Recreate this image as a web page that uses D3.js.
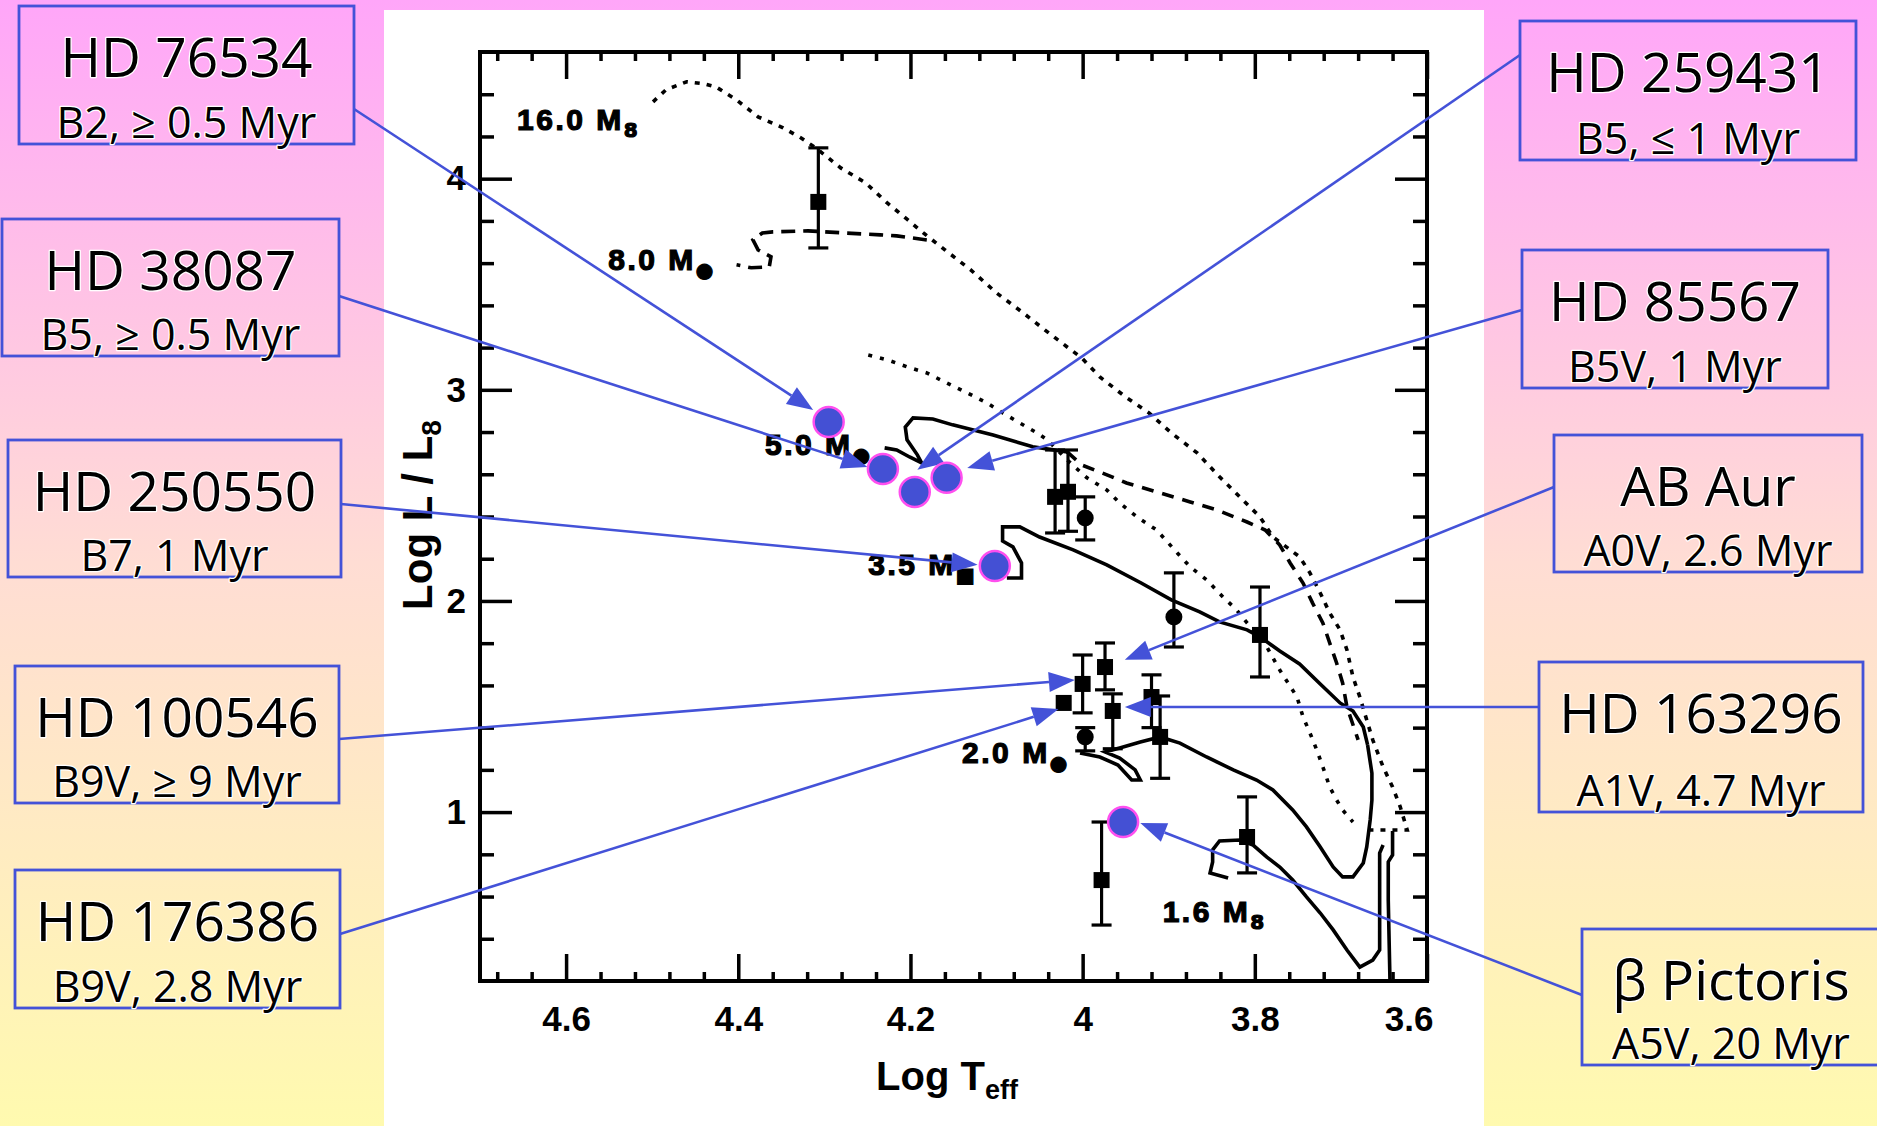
<!DOCTYPE html>
<html>
<head>
<meta charset="utf-8">
<script src="https://cdn.jsdelivr.net/npm/d3@7"></script>
<style>
  html, body { margin: 0; padding: 0; overflow: hidden; background: #fff; }
  svg { display: block; }
</style>
</head>
<body>
<svg id="chart" width="1877" height="1126"></svg>
<script>
// ---------- axis ticks ----------
const xTicksMajor = [4.6, 4.4, 4.2, 4.0, 3.8, 3.6];
const yTicksMajor = [1, 2, 3, 4];

// ---------- evolutionary curves: [log Teff, log L/Lsun] ----------
const birthline = [
  [4.499,4.364],[4.484,4.421],[4.460,4.459],[4.439,4.449],[4.426,4.435],[4.402,4.373],
  [4.377,4.293],[4.348,4.241],[4.327,4.193],[4.310,4.146],[4.281,4.051],[4.252,3.980],
  [4.227,3.885],[4.203,3.805],[4.185,3.743],[4.160,3.663],[4.130,3.568],[4.100,3.459],
  [4.069,3.364],[4.044,3.284],[4.018,3.203],[4.001,3.151],[3.980,3.061],[3.950,2.966],
  [3.923,2.891],[3.897,2.796],[3.867,2.701],[3.841,2.588],[3.814,2.479],[3.794,2.398],
  [3.779,2.303],[3.748,2.209],[3.736,2.133],[3.724,2.038],[3.713,1.943],[3.701,1.863],
  [3.693,1.768],[3.686,1.640],[3.678,1.545],[3.670,1.436],[3.663,1.342],[3.651,1.214],
  [3.640,1.119],[3.631,1.024],[3.623,0.915],[3.643,0.915],[3.669,0.915]
];
const track8 = [
  [4.181,3.710],[4.216,3.729],[4.235,3.734],[4.277,3.743],[4.319,3.753],[4.360,3.748],
  [4.372,3.743],[4.383,3.710],[4.377,3.663],[4.362,3.630],[4.364,3.582],[4.385,3.578],
  [4.402,3.592]
];
const track5 = [
  [4.018,2.706],[4.058,2.730],[4.104,2.786],[4.151,2.834],[4.174,2.862],[4.197,2.867],
  [4.206,2.824],[4.204,2.763],[4.192,2.692],[4.187,2.654],[4.201,2.682],[4.216,2.715],
  [4.230,2.725]
];
const upperDotted = [
  [4.249,3.165],[4.227,3.142],[4.204,3.109],[4.181,3.080],[4.158,3.033],[4.134,2.985],
  [4.111,2.938],[4.093,2.891],[4.073,2.843],[4.053,2.796],[4.041,2.763],[4.018,2.668],
  [3.995,2.583],[3.972,2.526],[3.957,2.464],[3.937,2.398],[3.914,2.336],[3.890,2.227],
  [3.875,2.161],[3.856,2.100],[3.837,2.019],[3.821,1.957],[3.809,1.896],[3.786,1.782],
  [3.771,1.673],[3.751,1.545],[3.744,1.451],[3.736,1.375],[3.728,1.294],[3.721,1.214],
  [3.713,1.119],[3.705,1.057],[3.698,1.010],[3.686,0.953]
];
const dashedTrack = [
  [4.018,2.706],[4.001,2.644],[3.966,2.588],[3.949,2.559],[3.910,2.512],[3.875,2.469],
  [3.844,2.431],[3.809,2.374],[3.788,2.336],[3.771,2.265],[3.759,2.180],[3.744,2.085],
  [3.733,1.991],[3.721,1.896],[3.713,1.801],[3.705,1.706],[3.698,1.612],[3.693,1.498],
  [3.680,1.342]
];
const track35 = [
  [4.088,2.109],[4.071,2.109],[4.071,2.180],[4.081,2.256],[4.093,2.284],[4.093,2.351],
  [4.073,2.351],[4.050,2.303],[4.011,2.242],[3.972,2.171],[3.932,2.085],[3.897,2.005],
  [3.864,1.948],[3.841,1.901],[3.809,1.863],[3.794,1.830],[3.771,1.763],[3.748,1.702],
  [3.724,1.607],[3.701,1.517],[3.686,1.479],[3.674,1.403],[3.669,1.318]
];
const track2 = [
  [3.669,1.318],[3.664,1.185],[3.664,1.057],[3.666,0.963],[3.670,0.835],[3.674,0.759],
  [3.686,0.693],[3.698,0.693],[3.709,0.740],[3.724,0.835],[3.740,0.930],[3.756,1.010],
  [3.779,1.105],[3.798,1.152],[3.825,1.200],[3.856,1.261],[3.887,1.327],[3.910,1.356],
  [3.933,1.332],[3.957,1.304],[3.974,1.285],[3.957,1.256],[3.939,1.200],[3.933,1.152],
  [3.943,1.152],[3.959,1.223],[3.980,1.261],[4.003,1.280]
];
const track16 = [
  [3.831,0.688],[3.852,0.712],[3.849,0.764],[3.849,0.821],[3.841,0.863],[3.817,0.868],
  [3.802,0.844],[3.786,0.787],[3.771,0.740],[3.756,0.678],[3.740,0.598],[3.724,0.522],
  [3.709,0.442],[3.693,0.347],[3.678,0.266],[3.663,0.299],[3.655,0.347],[3.655,0.584],
  [3.655,0.806],[3.651,0.844]
];
const track1 = [[3.640,0.911],[3.640,0.797],[3.645,0.764],[3.645,0.584],[3.643,0.2]];

// ---------- track labels ----------
const trackLabelText = ["16.0", "8.0", "5.0", "3.5", "2.0", "1.6"];
const trackLabelSun  = ["8", "●", "●", "■", "●", "8"];
const trackLabelLogT = [4.657, 4.551, 4.369, 4.249, 4.140, 3.907];
const trackLabelLogL = [4.231, 3.568, 2.692, 2.123, 1.233, 0.479];

// ---------- observed stars: [log Teff, log L, lower, upper, marker] ----------
const obsStars = [
  [4.307, 3.890, 3.672, 4.146, "sq"],
  [4.032, 2.493, 2.322, 2.715, "sq"],
  [4.017, 2.517, 2.330, 2.715, "sq"],
  [3.997, 2.393, 2.289, 2.493, "ci"],
  [3.894, 1.924, 1.782, 2.133, "ci"],
  [3.794, 1.839, 1.640, 2.066, "sq"],
  [3.974, 1.687, 1.579, 1.801, "sq"],
  [4.000, 1.607, 1.470, 1.744, "sq"],
  [4.022, 1.517, 1.517, 1.517, "sq"],
  [3.965, 1.479, 1.300, 1.560, "sq"],
  [3.920, 1.545, 1.400, 1.650, "sq"],
  [3.910, 1.356, 1.160, 1.550, "sq"],
  [3.997, 1.356, 1.290, 1.400, "ci"],
  [3.809, 0.882, 0.712, 1.072, "sq"],
  [3.978, 0.678, 0.465, 0.953, "sq"]
];

// ---------- highlighted stars ----------
const hlNames = ["HD 76534", "HD 38087", "HD 259431", "HD 85567", "HD 250550", "β Pictoris"];
const hlLogT  = [4.295, 4.232, 4.195, 4.158, 4.102, 3.953];
const hlLogL  = [2.848, 2.625, 2.516, 2.583, 2.166, 0.953];

// ---------- callouts ----------
const calloutNames = ["HD 76534", "HD 38087", "HD 250550", "HD 100546", "HD 176386",
                      "HD 259431", "HD 85567", "AB Aur", "HD 163296", "β Pictoris"];
const calloutInfo  = ["B2, ≥ 0.5 Myr", "B5, ≥ 0.5 Myr", "B7, 1 Myr", "B9V, ≥ 9 Myr", "B9V, 2.8 Myr",
                      "B5, ≤ 1 Myr", "B5V, 1 Myr", "A0V, 2.6 Myr", "A1V, 4.7 Myr", "A5V, 20 Myr"];
const arrowTipLogT = [4.313, 4.250, 4.122, 4.009, 4.028, 4.192, 4.134, 3.951, 3.951, 3.933];
const arrowTipLogL = [2.905, 2.635, 2.171, 1.626, 1.488, 2.621, 2.630, 1.721, 1.498, 0.948];

// callout box placement on the slide (pixels); tx = text centre offset
const boxLayout = [
  {x: 19,   y: 6,   w: 335, h: 138, side: "right", ay: 103},
  {x: 2,    y: 219, w: 337, h: 137, side: "right", ay: 77},
  {x: 8,    y: 440, w: 333, h: 137, side: "right", ay: 64},
  {x: 15,   y: 666, w: 324, h: 137, side: "right", ay: 73},
  {x: 15,   y: 870, w: 325, h: 138, side: "right", ay: 64},
  {x: 1520, y: 21,  w: 336, h: 139, side: "left",  ay: 34},
  {x: 1522, y: 250, w: 306, h: 138, side: "left",  ay: 60},
  {x: 1554, y: 435, w: 308, h: 137, side: "left",  ay: 52},
  {x: 1539, y: 662, w: 324, h: 150, side: "left",  ay: 45},
  {x: 1582, y: 929, w: 330, h: 136, side: "left",  ay: 66, tx: 149}
];

// ================= drawing =================
const W = 1877, H = 1126;
const svg = d3.select("#chart");
const BLUE = "#4452D8";

const defs = svg.append("defs");
const grad = defs.append("linearGradient").attr("id", "bg")
  .attr("x1", 0).attr("y1", 0).attr("x2", 0).attr("y2", 1);
grad.append("stop").attr("offset", "0%").attr("stop-color", "#FFA6F9");
grad.append("stop").attr("offset", "50%").attr("stop-color", "#FFDDD4");
grad.append("stop").attr("offset", "100%").attr("stop-color", "#FFFAAF");

svg.append("rect").attr("width", W).attr("height", H).attr("fill", "url(#bg)");
svg.append("rect").attr("x", 384).attr("y", 10).attr("width", 1100).attr("height", H - 10).attr("fill", "#fff");

const x = d3.scaleLinear().domain([4.7, 3.6]).range([480, 1427]);
const y = d3.scaleLinear().domain([0.2, 4.6]).range([981, 52]);
const [x0, x1] = x.range();
const [yB, yT] = y.range();

// ----- axes -----
const minorX = d3.range(90, 118).filter(i => i % 5 !== 0).map(i => +(i * 0.04).toFixed(2));
const minorY = d3.range(2, 23).filter(i => i % 5 !== 0).map(i => +(i * 0.2).toFixed(1));
const fmtX = d => Number.isInteger(d) ? String(d) : d.toFixed(1);

function styleAxis(sel) {
  sel.select(".domain").remove();
  sel.selectAll(".tick line").attr("stroke", "#000").attr("stroke-width", 3.5);
  sel.attr("font-family", "'Liberation Sans', Arial, sans-serif")
     .attr("font-size", 35).attr("font-weight", "bold");
  sel.selectAll(".tick text").attr("fill", "#000");
}

const axes = svg.append("g");
axes.append("g").attr("transform", `translate(0,${yB})`)
  .call(d3.axisBottom(x).tickValues(xTicksMajor).tickSize(-27).tickPadding(25).tickFormat(fmtX))
  .call(styleAxis)
  .selectAll(".tick text").filter(d => d === 3.6).attr("text-anchor", "end").attr("x", 6);
axes.append("g").attr("transform", `translate(0,${yB})`)
  .call(d3.axisBottom(x).tickValues(minorX).tickSize(-9).tickFormat("")).call(styleAxis);
axes.append("g").attr("transform", `translate(0,${yT})`)
  .call(d3.axisTop(x).tickValues(xTicksMajor).tickSize(-27).tickFormat("")).call(styleAxis);
axes.append("g").attr("transform", `translate(0,${yT})`)
  .call(d3.axisTop(x).tickValues(minorX).tickSize(-9).tickFormat("")).call(styleAxis);
axes.append("g").attr("transform", `translate(${x0},0)`)
  .call(d3.axisLeft(y).tickValues(yTicksMajor).tickSize(-32).tickPadding(14).tickFormat(d3.format("d")))
  .call(styleAxis);
axes.append("g").attr("transform", `translate(${x0},0)`)
  .call(d3.axisLeft(y).tickValues(minorY).tickSize(-14).tickFormat("")).call(styleAxis);
axes.append("g").attr("transform", `translate(${x1},0)`)
  .call(d3.axisRight(y).tickValues(yTicksMajor).tickSize(-32).tickFormat("")).call(styleAxis);
axes.append("g").attr("transform", `translate(${x1},0)`)
  .call(d3.axisRight(y).tickValues(minorY).tickSize(-14).tickFormat("")).call(styleAxis);

svg.append("rect").attr("x", x0).attr("y", yT).attr("width", x1 - x0).attr("height", yB - yT)
  .attr("fill", "none").attr("stroke", "#000").attr("stroke-width", 4);

// axis titles
const xTitle = svg.append("text").attr("x", 947).attr("y", 1090).attr("text-anchor", "middle")
  .attr("font-family", "'Liberation Sans', Arial, sans-serif").attr("font-weight", "bold")
  .attr("font-size", 40).attr("fill", "#000");
xTitle.append("tspan").text("Log T");
xTitle.append("tspan").attr("font-size", 27).attr("dy", 9).text("eff");

const yTitle = svg.append("text").attr("transform", "translate(432,515) rotate(-90)")
  .attr("text-anchor", "middle")
  .attr("font-family", "'Liberation Sans', Arial, sans-serif").attr("font-weight", "bold")
  .attr("font-size", 42).attr("fill", "#000");
yTitle.append("tspan").text("Log L / L");
yTitle.append("tspan").attr("font-size", 28).attr("dy", 9).text("8");

// ----- curves -----
const line = d3.line().x(d => x(d[0])).y(d => y(d[1]));
const curveDefs = [
  {data: birthline,   dash: "5,7"},
  {data: track8,      dash: "14,8"},
  {data: track5,      dash: null},
  {data: upperDotted, dash: "4,8"},
  {data: dashedTrack, dash: "12,9"},
  {data: track35,     dash: null},
  {data: track2,      dash: null},
  {data: track16,     dash: null},
  {data: track1,      dash: null}
];
const curves = svg.append("g").attr("fill", "none").attr("stroke", "#000")
  .attr("stroke-width", 3.6).attr("stroke-linejoin", "miter");
curveDefs.forEach(c => {
  curves.append("path").attr("d", line(c.data)).attr("stroke-dasharray", c.dash);
});

// ----- track labels -----
const labels = svg.append("g").attr("font-family", "'Liberation Sans', Arial, sans-serif")
  .attr("font-weight", "bold").attr("font-size", 30).attr("fill", "#000")
  .attr("stroke", "#000").attr("stroke-width", 1.2).attr("letter-spacing", 2.5);
trackLabelText.forEach((t, i) => {
  const tx = labels.append("text").attr("x", x(trackLabelLogT[i])).attr("y", y(trackLabelLogL[i]));
  tx.append("tspan").text(t + " M");
  tx.append("tspan").attr("font-family", "'DejaVu Sans', sans-serif")
    .attr("font-size", 20).attr("dy", 7).attr("letter-spacing", 0).text(trackLabelSun[i]);
});

// ----- observed stars with error bars -----
const obs = svg.append("g").attr("stroke", "#000").attr("fill", "#000");
obsStars.forEach(d => {
  const cx = x(d[0]), cy = y(d[1]);
  if (d[3] > d[2]) {
    const yl = y(d[2]), yh = y(d[3]);
    obs.append("line").attr("x1", cx).attr("x2", cx).attr("y1", yl).attr("y2", yh).attr("stroke-width", 3.2);
    obs.append("line").attr("x1", cx - 10).attr("x2", cx + 10).attr("y1", yl).attr("y2", yl).attr("stroke-width", 3.2);
    obs.append("line").attr("x1", cx - 10).attr("x2", cx + 10).attr("y1", yh).attr("y2", yh).attr("stroke-width", 3.2);
  }
  if (d[4] === "sq") {
    obs.append("rect").attr("x", cx - 8).attr("y", cy - 8).attr("width", 16).attr("height", 16).attr("stroke", "none");
  } else {
    obs.append("circle").attr("cx", cx).attr("cy", cy).attr("r", 8.5).attr("stroke", "none");
  }
});

// ----- callout arrows -----
const arrows = svg.append("g");
boxLayout.forEach((b, i) => {
  const sx = b.side === "right" ? b.x + b.w : b.x;
  const sy = b.y + b.ay;
  const tx = x(arrowTipLogT[i]), ty = y(arrowTipLogL[i]);
  const dx = tx - sx, dy = ty - sy, len = Math.hypot(dx, dy);
  const ux = dx / len, uy = dy / len;
  const headL = 26, headW = 10;
  const bx = tx - ux * headL, by = ty - uy * headL;
  arrows.append("line").attr("x1", sx).attr("y1", sy).attr("x2", bx).attr("y2", by)
    .attr("stroke", BLUE).attr("stroke-width", 2.6);
  arrows.append("polygon")
    .attr("points", [[tx, ty], [bx - uy * headW, by + ux * headW], [bx + uy * headW, by - ux * headW]].map(p => p.join(",")).join(" "))
    .attr("fill", BLUE);
});

// ----- highlighted stars -----
svg.append("g").selectAll("circle").data(hlNames).join("circle")
  .attr("cx", (d, i) => x(hlLogT[i])).attr("cy", (d, i) => y(hlLogL[i])).attr("r", 15)
  .attr("fill", "#4450D4").attr("stroke", "#FF4FEF").attr("stroke-width", 2.5);

// ----- callout boxes -----
const boxes = svg.append("g");
const boxText = t => t.attr("text-anchor", "middle")
  .attr("font-family", "'Open Sans', 'Noto Sans', sans-serif")
  .attr("fill", "#000").attr("stroke", "#fff").attr("stroke-width", 2.5)
  .attr("paint-order", "stroke").attr("stroke-linejoin", "round");
boxLayout.forEach((b, i) => {
  boxes.append("rect").attr("x", b.x).attr("y", b.y).attr("width", b.w).attr("height", b.h)
    .attr("fill", "none").attr("stroke", BLUE).attr("stroke-width", 2.8);
  const mid = b.x + (b.tx !== undefined ? b.tx : b.w / 2);
  boxes.append("text").attr("x", mid).attr("y", b.y + 71)
    .attr("font-size", 55).text(calloutNames[i]).call(boxText);
  boxes.append("text").attr("x", mid).attr("y", b.y + b.h - 6)
    .attr("font-size", 43).text(calloutInfo[i]).call(boxText);
});
</script>
</body>
</html>
